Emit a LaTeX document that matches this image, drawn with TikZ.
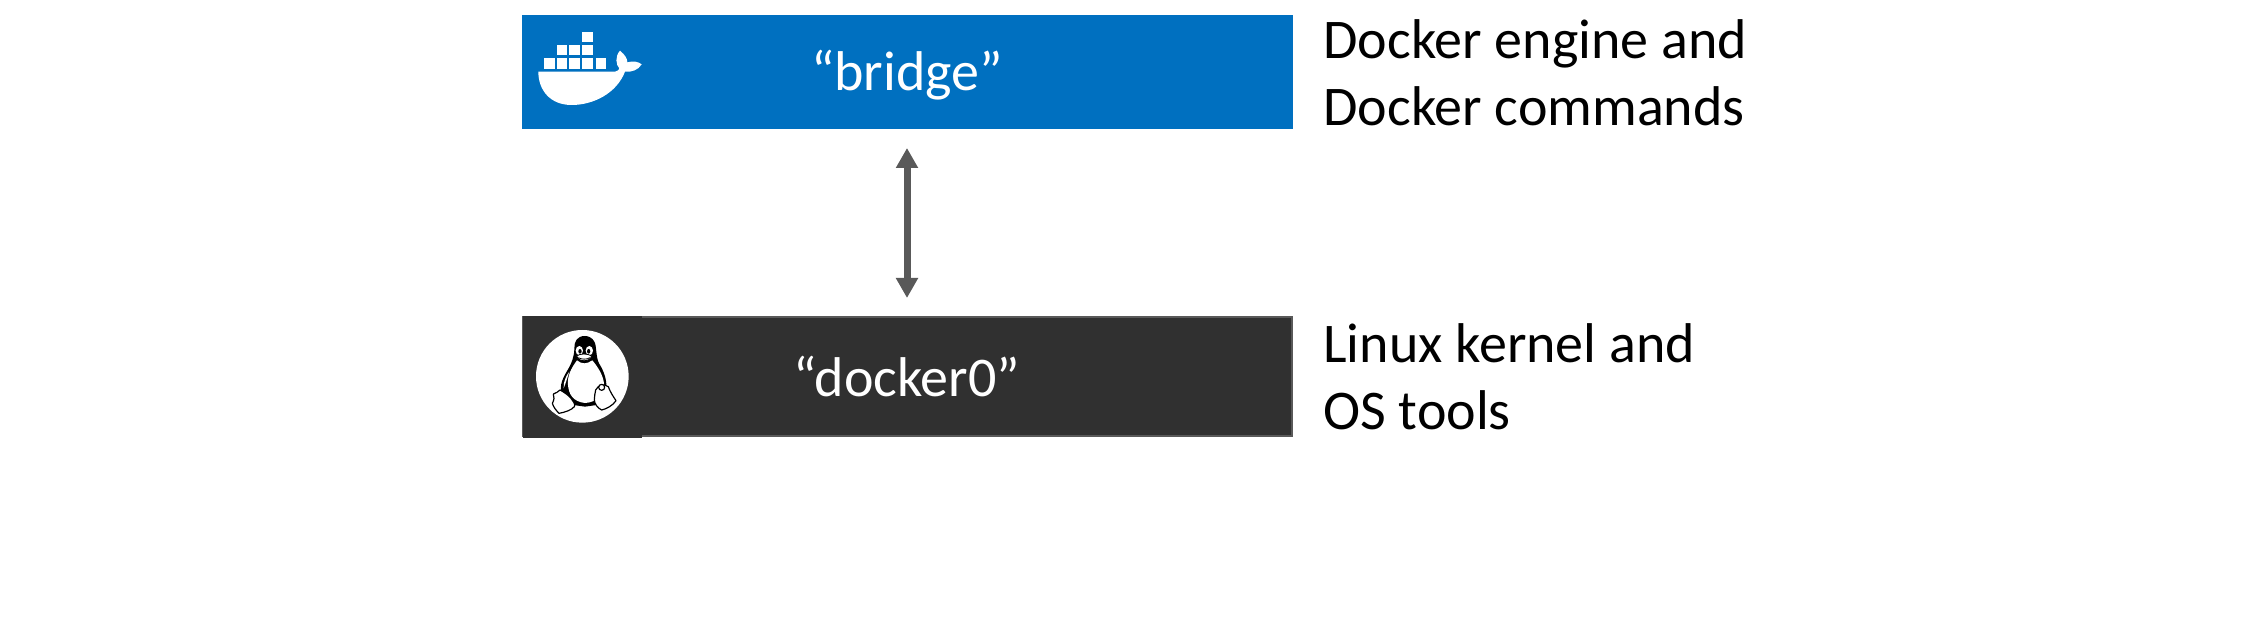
\documentclass[tikz,border=0pt]{standalone}
\usepackage{fontspec}
\setmainfont{Carlito}
\usetikzlibrary{arrows.meta}
\definecolor{dockerblue}{HTML}{0070C0}
\definecolor{kernelgray}{HTML}{303030}
\definecolor{kernelline}{HTML}{595959}
\tikzset{
	layerbox/.style={anchor=north west, inner sep=0pt, outer sep=0pt},
	layername/.style={anchor=base, inner sep=0pt, text=white, font=\fontsize{28}{33}\selectfont},
	layernote/.style={anchor=north west, align=left, inner sep=0pt, text=black, font=\fontsize{28}{33.5}\selectfont},
	penguinfoot/.style={fill=white, draw=black, line width=0.6pt, line join=round}
}
\begin{document}
\begin{tikzpicture}[x=0.5pt,y=-0.5pt]
\useasboundingbox (0,0) rectangle (2258,630);

% layers
\node[layerbox, fill=dockerblue, minimum width=385.5pt, minimum height=57pt] (bridge) at (522,15) {};
\node[layerbox, fill=kernelgray, draw=kernelline, line width=1.25pt, minimum width=384.5pt, minimum height=59.5pt] (kernel) at (523,317) {};
\fill[kernelgray] (523,316) rectangle (642,437.5);

% labels
\node[layername] (bridgetext) at (907,91) {“bridge”};
\node[layername] (dockertext) at (907,396) {“docker0”};
\node[layernote] (enginenote) at (1323,19) {Docker engine and\\Docker commands};
\node[layernote] (kernelnote) at (1323,323) {Linux kernel and\\OS tools};

% double arrow
\coordinate (up) at (907,148);
\coordinate (down) at (907,298);
\draw[{Triangle[length=10pt,width=10.5pt]}-{Triangle[length=10pt,width=10.5pt]}, draw=kernelline, line width=3.5pt] (up) -- (down);

% whale
\begin{scope}[shift={(510,0)}, scale=1/3]
\foreach \bx/\by in {102/175, 140/175, 178/175, 217/175, 257/175, 140/135, 178/135, 217/135, 217/95}
	\fill[white] (\bx,\by) rectangle ++(32,31);
\fill[white] (85,215) -- (315,215) .. controls (325,212) and (328,208) .. (328,205)
	.. controls (318,195) and (314,170) .. (330,152)
	.. controls (345,165) and (352,175) .. (352,187)
	.. controls (370,182) and (385,185) .. (395,193)
	.. controls (385,210) and (365,217) .. (345,215)
	.. controls (320,280) and (250,315) .. (185,315)
	.. controls (120,315) and (85,270) .. (85,215) -- cycle;
\end{scope}

% penguin
\begin{scope}[shift={(535,325)}, scale=1/3]
\fill[white] (142,154) circle (139);
% body
\fill[black] (150,33) .. controls (125,33) and (118,50) .. (118,70)
	.. controls (118,95) and (110,115) .. (95,140)
	.. controls (80,165) and (70,190) .. (85,215)
	-- (115,240) -- (150,245) -- (185,240) -- (212,200)
	.. controls (220,170) and (205,135) .. (192,115)
	.. controls (182,95) and (185,60) .. (178,50)
	.. controls (172,38) and (160,33) .. (150,33);
% belly
\fill[white] (126,106) .. controls (108,130) and (96,155) .. (99,180)
	.. controls (101,205) and (112,230) .. (150,234)
	.. controls (188,232) and (209,205) .. (207,175)
	.. controls (204,150) and (188,125) .. (172,106)
	.. controls (155,118) and (140,118) .. (126,106);
\fill[white] (86,190) .. controls (84,170) and (95,150) .. (103,140)
	.. controls (98,155) and (92,175) .. (86,190);
% eyes
\fill[white] (133,77) ellipse (11 and 14);
\fill[white] (163,77) ellipse (11 and 14);
\fill[black] (135,79) ellipse (5 and 7);
\fill[black] (161,79) ellipse (5 and 7);
% beak
\filldraw[fill=white, draw=black, line width=0.4pt] (125,93) .. controls (135,85) and (158,85) .. (170,93)
	.. controls (165,112) and (130,112) .. (125,93);
\draw[black, line width=0.4pt] (130,98) .. controls (140,104) and (155,104) .. (165,98);
% feet
\filldraw[penguinfoot] (55,207) .. controls (62,205) and (70,200) .. (75,195)
	.. controls (85,200) and (100,210) .. (108,220)
	.. controls (115,230) and (122,238) .. (118,245)
	.. controls (110,255) and (90,262) .. (72,265)
	.. controls (62,255) and (55,245) .. (52,235)
	.. controls (58,225) and (58,215) .. (55,207);
\filldraw[penguinfoot] (182,195) .. controls (190,180) and (205,175) .. (220,185)
	.. controls (225,200) and (235,215) .. (243,227)
	.. controls (235,240) and (215,252) .. (200,255)
	.. controls (188,250) and (178,235) .. (178,225)
	.. controls (178,215) and (180,205) .. (182,195);
\filldraw[penguinfoot] (200,187) circle (9);
\end{scope}

\end{tikzpicture}
\end{document}
